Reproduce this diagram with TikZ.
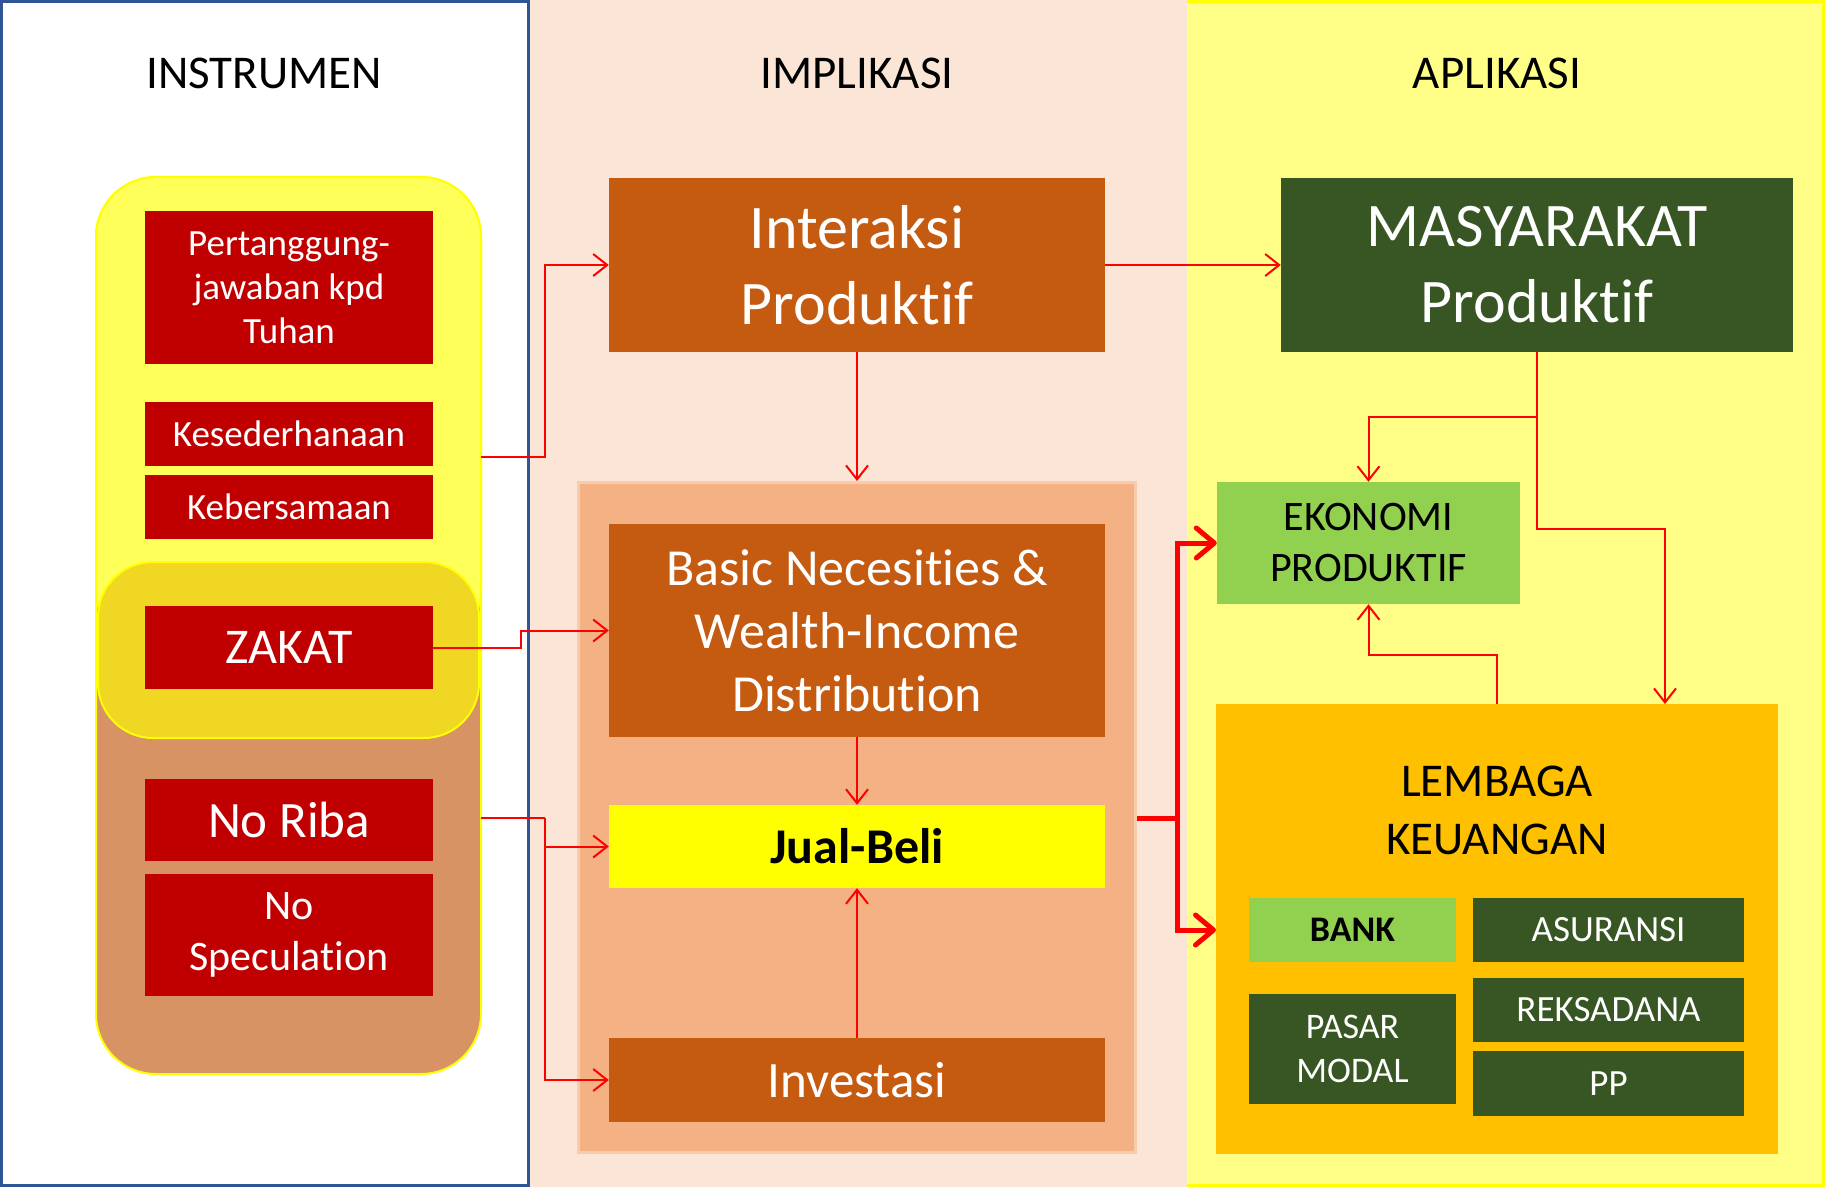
\documentclass[tikz,border=0pt]{standalone}
\usepackage{fontspec}
\setmainfont[RawFeature={-liga;-clig;-calt;-dlig}]{Carlito}
\usetikzlibrary{arrows.meta}
\definecolor{boxred}{HTML}{C00000}
\definecolor{boxbrown}{HTML}{C55A11}
\definecolor{boxgreen}{HTML}{375623}
\definecolor{lightgreen}{HTML}{92D050}
\definecolor{gold}{HTML}{FFC000}
\definecolor{salmon}{HTML}{F4B183}
\definecolor{salmonedge}{HTML}{F8CBAD}
\definecolor{peach}{HTML}{FBE5D6}
\definecolor{paleyellow}{HTML}{FFFF88}
\definecolor{grpyellow}{HTML}{FFFF59}
\definecolor{grpbrown}{HTML}{D89364}
\definecolor{zakband}{HTML}{F0D724}
\definecolor{panelblue}{HTML}{2F5597}
\definecolor{pureyellow}{HTML}{FFFF00}
\newcommand\fsz[2]{\fontsize{#1}{#2}\selectfont}
\tikzset{
  base/.style={rectangle, inner sep=0pt, align=center},
  redbox/.style={base, fill=boxred, text=white},
  brownbox/.style={base, fill=boxbrown, text=white},
  greenbox/.style={base, fill=boxgreen, text=white},
  lgbox/.style={base, fill=lightgreen, text=black},
  title/.style={base, text=black, font=\fsz{47}{56}},
  arr/.style={draw=red, line width=2pt, -{Straight Barb[length=14pt,width=22pt]}},
  thickarr/.style={draw=red, line width=5pt, -{Straight Barb[length=18pt,width=30pt,round]}},
  link/.style={draw=red, line width=2pt},
}
\begin{document}
\begin{tikzpicture}[x=1pt,y=-1pt]
\useasboundingbox (0,0) rectangle (1825,1187);
% panels
\fill[white] (0,0) rectangle (530,1187);
\fill[peach] (530,0) rectangle (1187,1187);
\fill[paleyellow] (1187,0) rectangle (1825,1187);
\draw[panelblue, line width=3pt] (1.5,1.5) rectangle (528,1185.5);
\draw[pureyellow, line width=3pt] (1187,1.5) -- (1823.5,1.5) -- (1823.5,1185.5) -- (1187,1185.5);
% titles
\node[title] (t1) at (264,73) {INSTRUMEN};
\node[title] (t2) at (857,73) {IMPLIKASI};
\node[title] (t3) at (1497,73) {APLIKASI};
% left group
\node[base, fill=grpbrown, draw=pureyellow, line width=2pt, rounded corners=60pt, minimum width=385pt, minimum height=897pt] (grp) at (288.5,625.5) {};
\node[base, fill=grpyellow, draw=pureyellow, line width=2pt, rounded corners=60pt, minimum width=385pt, minimum height=473pt] (grpy) at (288.5,413.5) {};
\node[base, fill=zakband, draw=pureyellow, line width=2pt, rounded corners=55pt, minimum width=381pt, minimum height=176pt] (grpz) at (288.5,650) {};
% left boxes
\node[redbox, font=\fsz{37}{44}, minimum width=288pt, minimum height=153pt] (pert) at (289,287.5) {Pertanggung-\\jawaban kpd\\Tuhan};
\node[redbox, font=\fsz{37}{44}, minimum width=288pt, minimum height=64pt] (kes) at (289,434) {Kesederhanaan};
\node[redbox, font=\fsz{37}{44}, minimum width=288pt, minimum height=64pt] (keb) at (289,507) {Kebersamaan};
\node[redbox, font=\fsz{50}{60}, minimum width=288pt, minimum height=83pt] (zakat) at (289,647.5) {ZAKAT};
\node[redbox, font=\fsz{51}{61}, minimum width=288pt, minimum height=82pt] (riba) at (289,820) {No Riba};
\node[redbox, font=\fsz{42}{51}, minimum width=288pt, minimum height=122pt] (spec) at (289,935) {No\\Speculation};
% middle
\node[brownbox, font=\fsz{62}{76}, minimum width=496pt, minimum height=174pt] (inter) at (857,265) {Interaksi\\Produktif};
\node[base, fill=salmon, draw=salmonedge, line width=3pt, minimum width=557pt, minimum height=670pt] (salmonbox) at (857,817.5) {};
\node[brownbox, font=\fsz{52}{63}, minimum width=496pt, minimum height=213pt] (basic) at (857,630.5) {Basic Necesities \&\\Wealth-Income\\Distribution};
\node[base, fill=pureyellow, text=black, font=\bfseries\fsz{50}{60}, minimum width=496pt, minimum height=83pt] (jual) at (857,846.5) {Jual-Beli};
\node[brownbox, font=\fsz{51}{61}, minimum width=496pt, minimum height=84pt] (invest) at (857,1080) {Investasi};
% right
\node[greenbox, font=\fsz{62}{76}, minimum width=512pt, minimum height=174pt] (masy) at (1537,265) {MASYARAKAT\\Produktif};
\node[lgbox, font=\fsz{42}{51}, minimum width=303pt, minimum height=122pt] (eko) at (1368.5,543) {EKONOMI\\PRODUKTIF};
\node[base, fill=gold, minimum width=562pt, minimum height=450pt] (lemb) at (1497,929) {};
\node[base, text=black, font=\fsz{47}{58}] (lembt) at (1497,810) {LEMBAGA\\KEUANGAN};
\node[lgbox, font=\bfseries\fsz{36}{43}, minimum width=207pt, minimum height=64pt] (bank) at (1352.5,930) {BANK};
\node[greenbox, font=\fsz{37}{44}, minimum width=271pt, minimum height=64pt] (asur) at (1608.5,930) {ASURANSI};
\node[greenbox, font=\fsz{36}{44}, minimum width=207pt, minimum height=110pt] (pasar) at (1352.5,1049) {PASAR\\MODAL};
\node[greenbox, font=\fsz{37}{44}, minimum width=271pt, minimum height=64pt] (reks) at (1608.5,1010) {REKSADANA};
\node[greenbox, font=\fsz{37}{44}, minimum width=271pt, minimum height=65pt] (pp) at (1608.5,1083.5) {PP};
% connector coordinates
\coordinate (g1) at (481,457);
\coordinate (g2) at (481,818);
\coordinate (g2b) at (545,818);
\coordinate (s1) at (1137,818);
\coordinate (s1b) at (1177,818);
\coordinate (m1) at (1537,417);
\coordinate (m2) at (1537,529);
\coordinate (l1) at (1665,704);
\coordinate (l2) at (1216,930);
% connectors
\draw[arr] (g1) -- ++(64,0) |- (inter.west);
\draw[arr] (zakat.east) -- ++(88,0) |- (basic.west);
\draw[link] (g2) -- (g2b);
\draw[arr] (g2b) |- (invest.west);
\draw[arr] (g2b) |- (jual.west);
\draw[arr] (inter.east) -- (masy.west);
\draw[arr] (inter.south) -- (salmonbox.north);
\draw[arr] (basic.south) -- (jual.north);
\draw[arr] (invest.north) -- (jual.south);
\draw[red, line width=5pt] (s1) -- (s1b);
\draw[thickarr] (s1b) |- (eko.west);
\draw[thickarr] (s1b) |- (l2);
\draw[link] (masy.south) -- (m1);
\draw[arr] (m1) -| (eko.north);
\draw[arr] (m1) -- (m2) -| (l1);
\draw[arr] (lemb.north) -- ++(0,-49) -| (eko.south);
\end{tikzpicture}
\end{document}
